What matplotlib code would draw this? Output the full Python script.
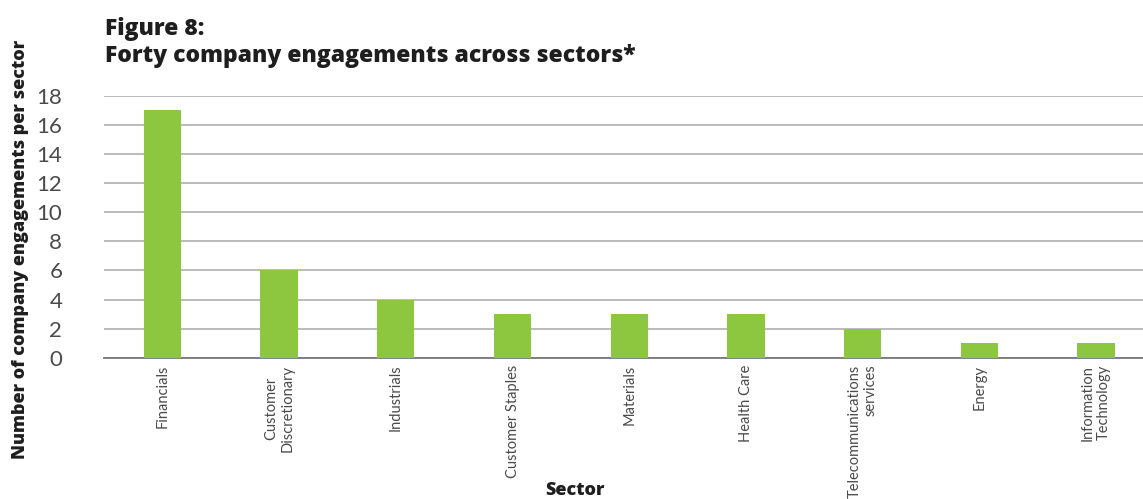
import numpy as np
import matplotlib
matplotlib.use('Agg')
import matplotlib.pyplot as plt

sectors = ['Financials', 'Customer\nDiscretionary', 'Industrials',
           'Customer Staples', 'Materials', 'Health Care',
           'Telecommunications\nservices', 'Energy', 'Information\nTechnology']
engagements = [17, 6, 4, 3, 3, 3, 2, 1, 1]
yticks = [0, 2, 4, 6, 8, 10, 12, 14, 16, 18]

green = '#8dc63f'
txt = '#4a4a4a'
head = '#1e1e1e'

fig = plt.figure(figsize=(11.43, 4.99), dpi=100)
# right side of the plot runs a bit past the figure edge, as in the source
ax = fig.add_axes([0.091, 0.283, 0.919, 0.525])

x = np.arange(len(sectors))
ax.bar(x, engagements, 0.32, color=green, zorder=3)

ax.set_xlim(-0.5, len(sectors) - 0.5)
ax.set_ylim(0, 18)
ax.set_yticks(yticks)
ax.set_yticklabels([str(v) for v in yticks], family='Lato', weight='normal',
                   fontsize=16, color=txt)
ax.set_xticks(x)
labs = ax.set_xticklabels(sectors, rotation=90, family='Lato', weight='normal',
                          fontsize=10.5, color=txt, va='top', ha='center',
                          multialignment='center')
labs[6].set_multialignment('right')
ax.tick_params(length=0, pad=5)
ax.tick_params(axis='y', pad=30)
ax.grid(axis='y', color='#a8a8a8', lw=1.1, zorder=0)
for s in ['top', 'right', 'left']:
    ax.spines[s].set_visible(False)
ax.spines['bottom'].set_color('#777777')
ax.spines['bottom'].set_linewidth(1.3)

fig.text(0.092, 0.966, 'Figure 8:\nForty company engagements across sectors*',
         family='Open Sans', weight='heavy', fontsize=16.5, color=head,
         va='top', ha='left', linespacing=1.15)
fig.text(0.018, 0.5, 'Number of company engagements per sector', rotation=90,
         family='Open Sans', weight='heavy', fontsize=13, color=head,
         va='center', ha='center')
fig.text(0.503, 0.018, 'Sector', family='Open Sans', weight='heavy',
         fontsize=13, color=head, va='center', ha='center')

plt.savefig('out.png', dpi=100)
